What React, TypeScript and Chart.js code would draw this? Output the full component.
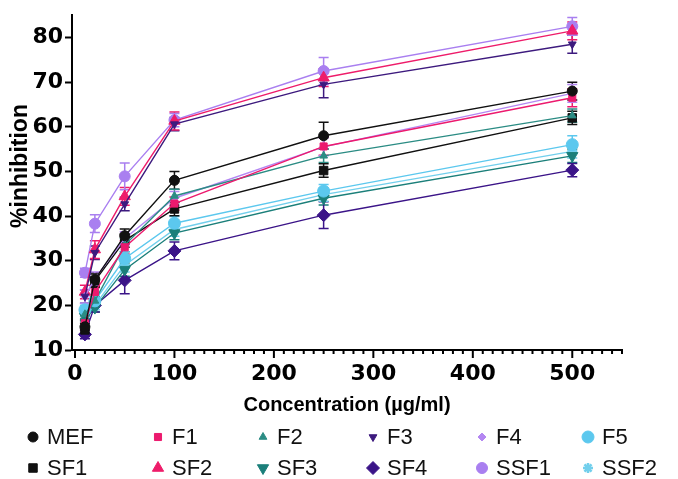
import React, { useEffect, useRef } from "react";
import { Chart, registerables } from "chart.js";
import { drawPoint } from "chart.js/helpers";

Chart.register(...registerables);

const concentrations = [10, 20, 50, 100, 250, 500];
const xTickValues = [0, 100, 200, 300, 400, 500];
const yTickValues = [10, 20, 30, 40, 50, 60, 70, 80];

const seriesNames = ["MEF", "F1", "F2", "F3", "F4", "F5", "SF1", "SF2", "SF3", "SF4", "SSF1", "SSF2"];

const MEF = [15.2, 25.8, 35.6, 48.0, 58.0, 68.0];
const F1 = [16.0, 23.0, 33.0, 42.8, 55.6, 66.5];
const F2 = [18.0, 21.0, 33.5, 44.5, 53.5, 62.5];
const F3 = [22.0, 31.8, 42.7, 60.6, 69.5, 78.5];
const F4 = [22.0, 26.0, 35.0, 44.0, 55.5, 67.5];
const F5 = [19.0, 21.0, 30.5, 38.4, 45.6, 56.0];
const SF1 = [14.5, 25.5, 34.5, 41.6, 50.2, 62.0];
const SF2 = [23.0, 32.5, 44.4, 61.3, 71.0, 81.5];
const SF3 = [17.5, 19.5, 28.0, 36.2, 44.0, 53.5];
const SF4 = [13.5, 20.0, 25.6, 32.2, 40.2, 50.3];
const SSF1 = [27.3, 38.3, 48.9, 61.5, 72.5, 82.5];
const SSF2 = [18.5, 20.0, 29.0, 37.0, 44.8, 54.5];

const MEF_err = [1.5, 1.5, 1.5, 2.0, 3.0, 2.0];
const F1_err = [1.5, 1.5, 1.5, 1.5, 2.0, 2.0];
const F2_err = [1.0, 1.0, 1.5, 1.5, 1.5, 1.5];
const F3_err = [1.5, 1.5, 1.5, 1.5, 3.0, 2.0];
const F4_err = [1.5, 1.5, 1.5, 1.5, 2.0, 2.0];
const F5_err = [1.0, 1.5, 1.5, 1.5, 1.5, 2.0];
const SF1_err = [1.5, 1.5, 1.5, 1.5, 1.5, 1.5];
const SF2_err = [1.5, 2.0, 2.0, 2.0, 2.0, 2.0];
const SF3_err = [1.0, 1.0, 1.5, 1.5, 1.5, 1.5];
const SF4_err = [1.0, 1.5, 3.0, 2.0, 3.0, 1.5];
const SSF1_err = [1.0, 2.0, 3.0, 1.5, 3.0, 2.0];
const SSF2_err = [1.0, 1.0, 1.5, 1.5, 1.5, 1.5];

const seriesValues = [MEF, F1, F2, F3, F4, F5, SF1, SF2, SF3, SF4, SSF1, SSF2];
const seriesErrors = [MEF_err, F1_err, F2_err, F3_err, F4_err, F5_err, SF1_err, SF2_err, SF3_err, SF4_err, SSF1_err, SSF2_err];

const seriesColors = [
  "#111111", "#ec1a6e", "#2b8c84", "#3d1a7e", "#b487f2", "#5cc8ee",
  "#111111", "#ee1c6a", "#1b7f7a", "#3b1488", "#a97ff0", "#72cfec",
];
const seriesStyles = ["circle", "rect", "triangle", "triangle", "rectRot", "circle", "rect", "triangle", "triangle", "rectRot", "circle", "star"];
const seriesRotation = [0, 0, 0, 180, 0, 0, 0, 0, 180, 0, 0, 0];
const seriesRadius = [5, 5, 4.5, 4.5, 4, 6, 6, 6.5, 6.5, 6.5, 5.5, 5];
const seriesPointBorder = [1, 1, 1, 1, 1, 1, 1, 1, 1, 1, 1, 2.5];

const legendCols = [33, 158, 263, 373, 482, 588];
const legendRows = [437, 468];

const errorBarPlugin = {
  id: "errorBars",
  beforeDatasetsDraw(chart: any) {
    const ctx = chart.ctx;
    const ys = chart.scales.y;
    chart.data.datasets.forEach((ds: any, i: number) => {
      const meta = chart.getDatasetMeta(i);
      ctx.save();
      ctx.strokeStyle = ds.borderColor;
      ctx.lineWidth = 1.5;
      meta.data.forEach((pt: any, j: number) => {
        const v = ds.data[j].y;
        const e = ds.errors[j];
        const yTop = ys.getPixelForValue(v + e);
        const yBot = ys.getPixelForValue(v - e);
        const x = pt.x;
        ctx.beginPath();
        ctx.moveTo(x, yTop);
        ctx.lineTo(x, yBot);
        ctx.moveTo(x - 5, yTop);
        ctx.lineTo(x + 5, yTop);
        ctx.moveTo(x - 5, yBot);
        ctx.lineTo(x + 5, yBot);
        ctx.stroke();
      });
      ctx.restore();
    });
  },
};

const axisTicksPlugin = {
  id: "axisTicks",
  afterDraw(chart: any) {
    const ctx = chart.ctx;
    const xs = chart.scales.x;
    const yb = chart.chartArea.bottom;
    ctx.save();
    ctx.strokeStyle = "#000";
    ctx.lineWidth = 2;
    for (let v = 0; v <= 550; v += 10) {
      const px = xs.getPixelForValue(v);
      const len = v % 100 === 0 ? 8 : 4;
      ctx.beginPath();
      ctx.moveTo(px, yb);
      ctx.lineTo(px, yb + len);
      ctx.stroke();
    }
    // y-axis title
    ctx.translate(21, 166);
    ctx.rotate(-Math.PI / 2);
    ctx.fillStyle = "#000";
    ctx.font = "bold 23px 'Liberation Sans', Arial, sans-serif";
    ctx.textAlign = "center";
    ctx.textBaseline = "middle";
    ctx.fillText("%inhibition", 0, 0);
    ctx.restore();
  },
};

const legendPlugin = {
  id: "gridLegend",
  afterDraw(chart: any) {
    const ctx = chart.ctx;
    ctx.save();
    chart.data.datasets.forEach((ds: any, i: number) => {
      const col = i % 6;
      const row = Math.floor(i / 6);
      const x = legendCols[col];
      const y = legendRows[row];
      ctx.fillStyle = ds.borderColor;
      ctx.strokeStyle = ds.borderColor;
      ctx.lineWidth = ds.pointBorderWidth;
      drawPoint(ctx, {
        pointStyle: ds.pointStyle,
        radius: ds.pointRadius,
        rotation: ds.pointRotation,
        borderWidth: ds.pointBorderWidth,
      }, x, y);
      ctx.fillStyle = "#111";
      ctx.font = "22px 'Liberation Sans', Arial, sans-serif";
      ctx.textBaseline = "middle";
      ctx.textAlign = "left";
      ctx.fillText(ds.label, x + 14, y + 1);
    });
    ctx.restore();
  },
};

export default function App() {
  const canvasRef = useRef<HTMLCanvasElement | null>(null);

  useEffect(() => {
    if (!canvasRef.current) return;
    const datasets = seriesNames.map((name, i) => ({
      label: name,
      data: concentrations.map((c, j) => ({ x: c, y: seriesValues[i][j] })),
      errors: seriesErrors[i],
      borderColor: seriesColors[i],
      backgroundColor: seriesColors[i],
      pointBackgroundColor: seriesColors[i],
      pointBorderColor: seriesColors[i],
      pointStyle: seriesStyles[i],
      pointRotation: seriesRotation[i],
      pointRadius: seriesRadius[i],
      pointBorderWidth: seriesPointBorder[i],
      borderWidth: 1.4,
      tension: 0,
      fill: false,
    }));

    const chart = new Chart(canvasRef.current, {
      type: "line",
      data: { datasets } as any,
      plugins: [errorBarPlugin, axisTicksPlugin, legendPlugin],
      options: {
        responsive: false,
        animation: false,
        layout: { padding: { top: 12, right: 56, bottom: 62, left: 0 } },
        plugins: {
          legend: { display: false },
          tooltip: { enabled: false },
        },
        scales: {
          x: {
            type: "linear",
            min: -3,
            max: 550,
            afterBuildTicks: (scale: any) => {
              scale.ticks = xTickValues.map((value) => ({ value }));
            },
            afterFit: (scale: any) => {
              scale.height = 67;
            },
            grid: { display: false, drawTicks: false },
            border: { display: true, color: "#000", width: 2 },
            ticks: {
              color: "#000",
              padding: 11,
              maxRotation: 0,
              autoSkip: false,
              font: { family: "'DejaVu Sans'", size: 22, weight: "bold" },
            },
            title: {
              display: true,
              text: "Concentration (µg/ml)",
              color: "#000",
              padding: { top: 2, bottom: 0 },
              font: { family: "'Liberation Sans', Arial, sans-serif", size: 20, weight: "bold" },
            },
          },
          y: {
            type: "linear",
            min: 10,
            max: 85,
            afterBuildTicks: (scale: any) => {
              scale.ticks = yTickValues.map((value) => ({ value }));
            },
            afterFit: (scale: any) => {
              scale.width = 72;
            },
            grid: {
              drawOnChartArea: false,
              drawTicks: true,
              tickLength: 7,
              tickColor: "#000",
              tickWidth: 2,
            },
            border: { display: true, color: "#000", width: 2 },
            ticks: {
              color: "#000",
              padding: 2,
              font: { family: "'DejaVu Sans'", size: 22, weight: "bold" },
            },
            title: { display: false },
          },
        },
      } as any,
    });
    return () => chart.destroy();
  }, []);

  return (
    <div style={{ position: "absolute", left: 0, top: 0, width: 678, height: 479, background: "#fff" }}>
      <canvas ref={canvasRef} width={678} height={479} />
    </div>
  );
}
